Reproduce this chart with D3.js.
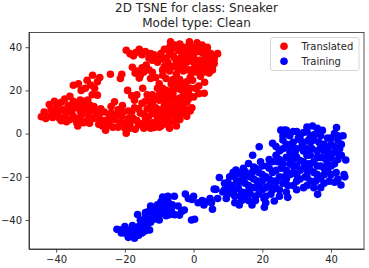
<!DOCTYPE html>
<html>
<head>
<meta charset="utf-8">
<script src="https://cdn.jsdelivr.net/npm/d3@7"></script>
<style>
    html, body { margin: 0; padding: 0; background: #fff; }
    svg { display: block; }
    text { font-family: "DejaVu Sans", sans-serif; fill: #262626; }
    .axis text { font-size: 10px; }
    .axis path, .axis line { stroke: #262626; stroke-width: 0.8; }
</style>
</head>
<body>
<svg id="chart"></svg>
<script>
const titleLines = ["2D TSNE for class: Sneaker", "Model type: Clean"];
const xTicks = [-40, -20, 0, 20, 40];
const yTicks = [-40, -20, 0, 20, 40];
const seriesNames = ["Translated", "Training"];
const seriesColors = ["#ff0000", "#0000ff"];

// x / y in tsne units
const translated = [
    [-44.3,7.8],[-43.5,10],[-42.5,8],[-41,7.5],[-42,13.5],[-40.5,15],[-40,12],[-39.5,9.5],[-38.5,14.5],[-38,11],
    [-37.5,8],[-37,5.5],[-36.5,13],[-36,17.3],[-35.5,10],[-35,15],[-34.5,7],[-34,12],[-33.7,3.5],[-33,15.5],
    [-32.5,9],[-32,13],[-31,6],[-31,11],[-30.3,4.8],[-30.8,15.5],[-35,22.4],[-33.5,23],[-32.7,20],[-31.5,21],
    [-31,24.7],[-30,22.5],[-29.4,27],[-28.8,21],[-28,24],[-27.3,26],[-28,17.8],[-29.5,18],[-24.2,27.5],[-20.9,27.5],
    [-21.3,25.5],[-27.6,4.3],[-25.6,1.6],[-26,10],[-24.5,8],[-23,14.7],[-24,12.5],[-20.7,13],[-22,11],[-29,12.5],
    [-28,9],[-29,7],[-26,6],[-24.5,4],[-23,6.5],[-22,3],[-21,8],[-20,5],[-19,10.5],[-19.6,0.2],
    [-18.5,2.5],[-17.5,7],[-17.2,12],[-17.2,15.5],[-16,4],[-15.5,9.5],[-15,14],[-14.5,2.5],[-14,7],[-13.5,11.5],
    [-19.2,20],[-18,17.5],[-16.5,18],[-14.8,21],[-13.5,18],[-12.5,15],[-12,5],[-12,9.5],[-11.5,2.8],[-11,12],
    [-10.5,7],[-10,15.5],[-10,18],[-9.5,3.5],[-9,10],[-8.5,13],[-8,4.4],[-8,20],[-7.5,7],[-7,16],
    [-6.5,23],[-6.5,11],[-6,18.5],[-5.5,6],[-5,14],[-5,21],[-4.5,9],[-4,25],[-3.5,12],[-3.2,9.5],
    [-3,17],[-2.5,22],[-2,14.5],[-1.5,19],[-1,26],[-0.5,12],[-0.3,24.7],[0,17],[0.5,21],[1.5,18.5],
    [3.1,18.7],[3.2,23.8],[1.5,22],[-8,25.5],[-7,29],[-5,27.5],[-3,29],[-19.6,38.6],[-18.5,37],[-17.5,36],
    [-15.8,39],[-15,36.5],[-14,38],[-13,35],[-11.5,36.5],[-10.5,33],[-9.5,37],[-8.5,39],[-8,35],[-7.5,33],
    [-6.7,42.5],[-6.5,39],[-6,36],[-5.5,41],[-5,33],[-4.5,38.5],[-4,41.5],[-3.5,35.5],[-3,31],[-2.5,39],
    [-2,36],[-1.2,42.5],[-1,38],[-0.5,33.5],[0,40],[0,36],[0.5,31],[1,42],[1.5,38],[2,34],
    [2.5,30.5],[3.1,39.5],[3.5,36],[4,33],[4.5,28],[5,37],[5.5,31],[6,34.5],[7,37],[-17.8,30.7],
    [-16.5,29],[-15.5,27],[-15.8,25.7],[-14.5,28.5],[-13.8,31.7],[-13,29.5],[-12,28.4],[-11,26],[-10,23],[-9,27],
    [-4,20.5],[-2,11],[-7,2.5],[-5,3.5],[-9.5,6.5],[-12.5,12.5],[-6,9],[-8,16.5],[-4,16.5],[-10.5,21],
    [-43,7],[-41.5,11],[-41,9],[-39,7],[-39.5,13.5],[-38.5,6],[-37.5,16],[-36.5,10],[-36,6.5],[-35,12.5],
    [-35,8],[-34,5],[-34,14],[-33,7.5],[-33,10.5],[-32,5],[-32,15],[-30.5,8.5],[-30,13],[-29,10.5],
    [-27.5,7.5],[-27,11.5],[-26.5,3.5],[-25,5.5],[-24,9.5],[-23.5,3],[-22.5,8.5],[-21.5,5],[-20.5,10],[-20,2.5],
    [-19,7],[-18.5,4.5],[-18,10],[-17,2],[-16.5,6],[-16,11.5],[-15,4.5],[-14.5,9],[-13.5,4.5],[-13,8],
    [-12.5,2.5],[-12,14],[-11,5],[-11,9],[-10,3],[-10,11],[-9,5.5],[-9,8],[-8.5,15],[-8,11],
    [-7.5,13],[-7,5],[-7,9],[-6.5,18],[-6,13],[-5.5,16],[-5,11],[-5,7.5],[-4,14],[-4,6.5],
    [-3,19.5],[-3,14],[-2.5,17],[-2,8],[-1.5,16],[-1,10.5],[-1,21],[-9,18],[-9,21],[-7.5,19],
    [-6,21],[-6,25],[-5,23],[-3.5,23],[-2,24],[-12,18],[-11,16],[-14,15],[-6,31],[-4.5,30],
    [-1.5,29.5],[-2,33],[-3.5,33],[-7,37],[-7,40],[-5.5,35],[-3,40],[-3,37],[-1.5,40.5],[-1,35],
    [0.5,38.5],[0.5,34],[1.5,40],[1.5,32.5],[2.5,37.5],[2.5,41],[3,34],[4,38],[4,30],[5,35],
    [3,28.5],[6,32.5],[-12,34],[-10,35],[-9,34.5],[-12.5,37],[-16.8,37.5],[-15,30.5],[-12.5,25.5],[-17,28],
    [1,28.5],[-0.5,28],[1.5,30],[5.5,29.5],[3,31.5],[5.5,34],[4.5,32],[6,36],[4,40],[-8.5,31],
    [-9,29.5],[-7.5,31.5],[-4,32],[0,30],[2,26.5]
];
const training = [
    [-22.3,-44.3],[-21,-44.5],[-20,-43],[-20,-46],[-19,-48],[-18.5,-45],[-17.8,-42.5],[-17.2,-48.4],[-17,-45.5],[-16.3,-37.4],
    [-16,-43],[-15.5,-40],[-15,-46],[-14.5,-42],[-14,-38],[-13.5,-40],[-12.8,-44.6],[-13,-36],[-12.5,-33.5],[-12,-39],
    [-11.5,-35.5],[-11,-37.5],[-10.5,-33],[-10,-40],[-10,-35],[-9.5,-31.5],[-9,-29.4],[-9,-37],[-8,-33],[-8,-38],
    [-7.5,-29],[-6.5,-35],[-5.6,-29],[-6.2,-33],[-5.5,-37.5],[-4.1,-37.7],[-2.7,-35.4],[-2.4,-28],[-1.5,-30],[0.3,-39.6],
    [-0.6,-40],[0,-29],[1.3,-32],[2.5,-31],[3.8,-31.5],[4.8,-30],[6,-25.7],[5.5,-35],[5.2,-32],[6.5,-25.8],
    [7,-30],[7.5,-20.3],[8.5,-27],[9,-23],[9.5,-30],[10,-25],[10.5,-20],[11,-27.5],[11.5,-18],[12,-32],
    [12.3,-16.9],[12.5,-22],[13,-25],[13.3,-33],[13.5,-29],[14,-19],[14.5,-16],[15,-23],[15.5,-27],[16,-13.8],
    [16,-31],[16.5,-20],[17,-25],[17.2,-10],[17.5,-15.5],[18,-29],[18.5,-22],[19,-18],[19.1,-6.1],[19.5,-13],
    [20,-26],[20.6,-34.1],[20.5,-30],[21,-20],[21.5,-15],[22,-24],[22.5,-28],[23,-18],[23,-4.5],[23.5,-31.2],
    [24,-10],[24,-22],[24.5,-13],[25,-26],[25.4,1.6],[25.5,-16],[26,-7],[26,-3],[26.5,-20],[27,-11],
    [27.4,-29.5],[27.5,-24],[28,-1],[28,-14],[28.5,-5],[29,-18],[29.5,-9],[30,-22],[30,-26],[30.5,-2],
    [31,-12.5],[31.5,-6],[32,-16],[32,0.5],[32.5,-20],[33,-10],[33,-24],[33.5,-3],[34,-14],[34.6,3.5],
    [34.5,-7],[35,-18],[35,-0.5],[35.5,-22],[36,-11],[36.1,-28.1],[36.5,-4],[37,-15],[37,-25],[37.5,1.5],
    [38,-8],[38,-19],[38.5,-12],[39,-2],[39.5,-22],[40,-5],[40,-15],[40.5,-9],[41,0],[41.6,2.85],
    [41.5,-18],[42,-12],[42,-3],[42.5,-7],[42.9,-23.8],[43,-10],[43.5,-1],[43.8,-18.9],[44.3,-12.2],[41,-22.5],
    [33,-20],[30,-15],[27,-17],[25,-12],[22,-12],[20,-22],[18,-25],[15,-20],[12,-26],[10,-28],
    [35,-13],[38,-5],[32,-8],[29,-12],[36,-8],[26,-23],[31,-3],[34,-1],[29,1],[24,-6],
    [40,-11],[37,-21],[33,-17],[39,-17],[28,-8],[30,-19],[23,-26],[21,-29],[14,-31],[17,-33],
    [-21,-46],[-19,-46],[-18,-47],[-18,-44],[-16,-47],[-16,-45],[-15,-43.5],[-14,-45],[-13.5,-42.5],[-14,-36.5],
    [-12.5,-41],[-12,-36.5],[-11,-39.5],[-11,-34],[-10,-37.5],[-9,-34],[-9,-31.5],[-8,-35.5],[-7.5,-31],[-7,-37.5],
    [-4.5,-33.5],[-3.5,-36],[-0.5,-30.5],[3,-33],
    [9,-26],[10,-22.5],[11,-24],[12,-20],[12,-29],[13,-18],[14,-22],[14,-27],[15,-17.5],[15,-30],
    [16,-24],[16.5,-28],[17,-18],[17.5,-21],[18,-16],[18,-31],[19,-24],[19,-28],[20,-15],[20,-19],
    [21,-25],[21,-32],[22,-16],[22,-21],[23,-13],[23,-22],[24,-17],[24,-25],[25,-20],[25,-29],
    [25,-8],[26,-14],[26,-1],[27,-5],[27,-21],[27,-27],[28,-11],[28,-19],[29,-4],[29,-15],
    [29,-24],[30,-7],[30,-11],[31,-1],[31,-17],[31,-21],[32,-4],[32,-13],[32,-25],[33,-7],
    [33,-14],[33,1],[34,-4],[34,-10],[34,-17],[34,-22],[35,-3],[35,-25],[36,-15],[36,-19],
    [36,0.5],[37,-1],[37,-6],[37,-11],[38,-16],[38,-23],[39,-7],[39,-10],[39,-14],[40,-2],
    [40,-19],[41,-6],[41,-14],[42,-9],[42,-1],[43,-5],[36,2.5],[33,3],[30,1],[27,1.5],
    [44,-20],[42,-21],[26.5,1.6]
];

const width = 369;
const height = 268;
const margin = { top: 32.5, right: 5, bottom: 19, left: 29 };

const svg = d3.select("#chart")
    .attr("width", width)
    .attr("height", height);

const x = d3.scaleLinear().domain([-47.9, 49.6]).range([margin.left, width - margin.right]);
const y = d3.scaleLinear().domain([-53.4, 46.8]).range([height - margin.bottom, margin.top]);

svg.append("g").selectAll("circle")
    .data(translated)
    .join("circle")
    .attr("cx", d => x(d[0]))
    .attr("cy", d => y(d[1]))
    .attr("r", 3.8)
    .attr("fill", seriesColors[0]);

svg.append("g").selectAll("circle")
    .data(training)
    .join("circle")
    .attr("cx", d => x(d[0]))
    .attr("cy", d => y(d[1]))
    .attr("r", 3.8)
    .attr("fill", seriesColors[1]);

const fmt = d => String(d).replace("-", "\u2212");

svg.append("g")
    .attr("class", "axis")
    .attr("transform", `translate(0,${height - margin.bottom})`)
    .call(d3.axisBottom(x).tickValues(xTicks).tickFormat(fmt).tickSizeInner(3.5).tickSizeOuter(0).tickPadding(3.5));

svg.append("g")
    .attr("class", "axis")
    .attr("transform", `translate(${margin.left},0)`)
    .call(d3.axisLeft(y).tickValues(yTicks).tickFormat(fmt).tickSizeInner(3.5).tickSizeOuter(0).tickPadding(3.5));

svg.append("rect")
    .attr("x", margin.left)
    .attr("y", margin.top)
    .attr("width", width - margin.left - margin.right)
    .attr("height", height - margin.top - margin.bottom)
    .attr("fill", "none")
    .attr("stroke", "#262626")
    .attr("stroke-width", 0.8);

svg.append("g").selectAll("text")
    .data(titleLines)
    .join("text")
    .attr("x", (margin.left + width - margin.right) / 2)
    .attr("y", (d, i) => 11.5 + i * 15.5)
    .attr("text-anchor", "middle")
    .style("font-size", "12px")
    .text(d => d);

const legend = svg.append("g");
legend.append("rect")
    .attr("x", 270.5)
    .attr("y", 37.5)
    .attr("width", 88.5)
    .attr("height", 33)
    .attr("rx", 2)
    .attr("fill", "#fff")
    .attr("fill-opacity", 0.8)
    .attr("stroke", "#ccc")
    .attr("stroke-width", 0.8);

const rows = legend.selectAll("g")
    .data(seriesNames)
    .join("g")
    .attr("transform", (d, i) => `translate(284,${46.3 + i * 15})`);

rows.append("circle")
    .attr("r", 3.8)
    .attr("fill", (d, i) => seriesColors[i]);

rows.append("text")
    .attr("x", 17.5)
    .attr("y", 3.5)
    .style("font-size", "10px")
    .text(d => d);
</script>
</body>
</html>
